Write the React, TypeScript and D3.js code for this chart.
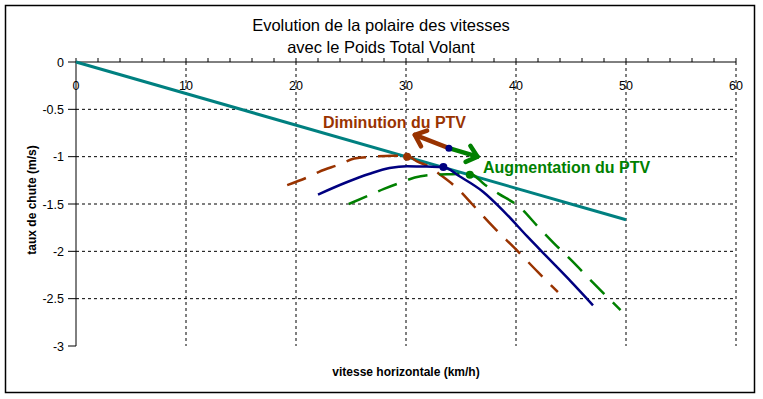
import * as d3 from "d3";

// valeurs
const xTicks = [0, 10, 20, 30, 40, 50, 60];
const xMinorTicks = d3.range(0, 61, 2);
const yTicks = [0, -0.5, -1, -1.5, -2, -2.5, -3];
const yTickLabels = ["0", "-0.5", "-1", "-1.5", "-2", "-2.5", "-3"];

const tangentX = [0, 50];
const tangentY = [0, -1.667];

const nominalX = [22, 24.6, 26.7, 28.5, 30.1, 31.9, 33.4, 34.9, 37, 39, 41, 43, 45, 47];
const nominalY = [-1.4, -1.27, -1.18, -1.12, -1.1, -1.105, -1.11, -1.21, -1.37, -1.59, -1.84, -2.08, -2.32, -2.57];

const lightX = [19.2, 21, 22.1, 24, 25.3, 27, 28.7, 30.1, 31, 32, 33.1, 34.8, 36, 38, 40, 42, 43.8];
const lightY = [-1.3, -1.22, -1.16, -1.08, -1.02, -1.0, -0.99, -0.99, -1.05, -1.1, -1.19, -1.35, -1.5, -1.75, -1.98, -2.22, -2.43];

const heavyX = [24.8, 26.6, 28, 29.6, 30.8, 32.8, 34.2, 35.8, 37.2, 38.4, 40.4, 42, 43.5, 45, 47, 49.5];
const heavyY = [-1.5, -1.41, -1.34, -1.27, -1.22, -1.19, -1.185, -1.18, -1.3, -1.39, -1.54, -1.74, -1.92, -2.09, -2.33, -2.62];

// points de finesse max (tangente)
const bestX = [30.1, 33.4, 35.8];
const bestY = [-1.0, -1.11, -1.19];
const bestColors = ["#993300", "#000080", "#008000"];

// fleches
const arrowBase = [33.9, -0.91];
const arrowLightTip = [30.8, -0.77];
const arrowHeavyTip = [36.5, -1.0];

const W = 763;
const H = 399;
const font = "'Liberation Sans', Arial, sans-serif";

export default function App() {
  const x = d3.scaleLinear().domain([0, 60]).range([76, 736]);
  const y = d3.scaleLinear().domain([0, -3]).range([62, 346]);

  const curve = (xs: number[], ys: number[]) =>
    d3
      .line<number>()
      .x((_, i) => x(xs[i]))
      .y((_, i) => y(ys[i]))
      .curve(d3.curveMonotoneX)(xs) as string;

  const arrow = (tip: number[], color: string) => {
    const x0 = x(arrowBase[0]);
    const y0 = y(arrowBase[1]);
    const x1 = x(tip[0]);
    const y1 = y(tip[1]);
    const ang = Math.atan2(y0 - y1, x0 - x1);
    const len = 13;
    const a1 = ang + 0.7;
    const a2 = ang - 0.7;
    const head = `M${x1 + len * Math.cos(a1)},${y1 + len * Math.sin(a1)}L${x1},${y1}L${x1 + len * Math.cos(a2)},${y1 + len * Math.sin(a2)}`;
    return (
      <g stroke={color} strokeWidth={4.5} fill="none" strokeLinecap="round" strokeLinejoin="round">
        <path d={`M${x0},${y0}L${x1},${y1}`} />
        <path d={head} />
      </g>
    );
  };

  return (
    <svg width={W} height={H} style={{ position: "absolute", left: 0, top: 0, background: "#fff" }} fontFamily={font}>
      <rect x={5.5} y={5.5} width={749} height={387} fill="#fff" stroke="#000" strokeWidth={1.5} />

      <text x={381} y={31} textAnchor="middle" fontSize={16.5}>Evolution de la polaire des vitesses</text>
      <text x={381} y={53} textAnchor="middle" fontSize={16.5}>avec le Poids Total Volant</text>

      {/* tick labels x (sous l'axe, traverses par la grille) */}
      {xTicks.map((t) => (
        <text key={"xl" + t} x={x(t)} y={89.5} textAnchor="middle" fontSize={12.5}>{t}</text>
      ))}

      {/* grille */}
      {xTicks.slice(1).map((t) => (
        <line key={"gx" + t} x1={x(t)} x2={x(t)} y1={y(0)} y2={y(-3)} stroke="#000" strokeWidth={1} strokeDasharray="3,3" />
      ))}
      {yTicks.slice(1, -1).map((t) => (
        <line key={"gy" + t} x1={x(0)} x2={x(60)} y1={y(t)} y2={y(t)} stroke="#000" strokeWidth={1} strokeDasharray="3,3" />
      ))}

      {/* axes */}
      <line x1={x(0)} x2={x(60)} y1={y(0)} y2={y(0)} stroke="#000" strokeWidth={1} />
      <line x1={x(0)} x2={x(0)} y1={y(0)} y2={y(-3)} stroke="#000" strokeWidth={1} />
      {xMinorTicks.map((t) => (
        <line key={"xt" + t} x1={x(t)} x2={x(t)} y1={y(0)} y2={y(0) - 4} stroke="#000" strokeWidth={1} />
      ))}
      {yTicks.map((t, i) => (
        <g key={"yt" + t}>
          <line x1={x(0) - 8} x2={x(0)} y1={y(t)} y2={y(t)} stroke="#000" strokeWidth={1} />
          <text x={x(0) - 12} y={y(t) + 4.5} textAnchor="end" fontSize={12.5}>{yTickLabels[i]}</text>
        </g>
      ))}

      <text x={406} y={376} textAnchor="middle" fontSize={12} fontWeight="bold">vitesse horizontale (km/h)</text>
      <text transform="translate(36,200) rotate(-90)" textAnchor="middle" fontSize={12} fontWeight="bold">taux de chute (m/s)</text>

      {/* courbes */}
      <path d={curve(tangentX, tangentY)} fill="none" stroke="#008080" strokeWidth={3} />
      <path d={curve(lightX, lightY)} fill="none" stroke="#993300" strokeWidth={2.5} strokeDasharray="20,12" />
      <path d={curve(heavyX, heavyY)} fill="none" stroke="#008000" strokeWidth={2.5} strokeDasharray="20,12" />
      <path d={curve(nominalX, nominalY)} fill="none" stroke="#000080" strokeWidth={2.5} />

      {bestX.map((bx, i) => (
        <circle key={"b" + i} cx={x(bx)} cy={y(bestY[i])} r={4} fill={bestColors[i]} />
      ))}

      {arrow(arrowLightTip, "#993300")}
      {arrow(arrowHeavyTip, "#008000")}
      <circle cx={x(arrowBase[0])} cy={y(arrowBase[1])} r={3.5} fill="#000080" />

      <text x={x(22.45)} y={y(-0.697)} fontSize={16} fontWeight="bold" fill="#993300">Diminution du PTV</text>
      <text x={x(37)} y={y(-1.172)} fontSize={16} fontWeight="bold" fill="#008000">Augmentation du PTV</text>
    </svg>
  );
}
